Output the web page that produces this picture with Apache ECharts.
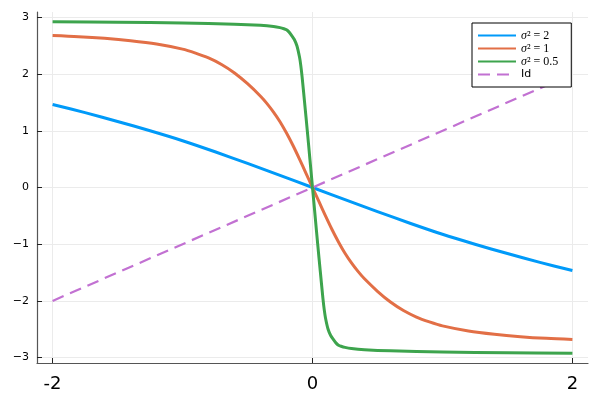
<!DOCTYPE html>
<html>
<head>
<meta charset="utf-8">
<script src="https://cdn.jsdelivr.net/npm/echarts@6/dist/echarts.min.js"></script>
<style>html,body{margin:0;padding:0;background:#fff}#c{width:600px;height:400px}</style>
</head>
<body>
<div id="c"></div>
<script>
// ---- data ----
const seriesNames = ['σ² = 2', 'σ² = 1', 'σ² = 0.5', 'Id'];

const xBlue = [-2, -1.75, -1.5, -1.25, -1, -0.75, -0.5, -0.25, 0, 0.25, 0.5, 0.75, 1, 1.25, 1.5, 1.75, 2];
const yBlue = [1.465, 1.32, 1.165, 1.0, 0.825, 0.63, 0.425, 0.215, 0, -0.215, -0.425, -0.63, -0.825, -1.0, -1.165, -1.32, -1.465];

const xOrange = [-2, -1.8, -1.6, -1.4, -1.2, -1, -0.9, -0.8, -0.7, -0.6, -0.5, -0.4, -0.35, -0.3, -0.25, -0.2, -0.15, -0.1, -0.05,
                 0, 0.05, 0.1, 0.15, 0.2, 0.25, 0.3, 0.35, 0.4, 0.5, 0.6, 0.7, 0.8, 0.9, 1, 1.2, 1.4, 1.6, 1.8, 2];
const yOrange = [2.68, 2.66, 2.63, 2.588, 2.53, 2.44, 2.37, 2.285, 2.17, 2.02, 1.83, 1.61, 1.48, 1.33, 1.16, 0.96, 0.74, 0.5, 0.25,
                 0, -0.25, -0.5, -0.74, -0.96, -1.16, -1.33, -1.48, -1.61, -1.83, -2.02, -2.17, -2.285, -2.37, -2.44, -2.53, -2.588, -2.63, -2.66, -2.68];

const xGreen = [-2, -1.5, -1, -0.6, -0.4, -0.3, -0.25, -0.22, -0.2, -0.18, -0.16, -0.14, -0.12, -0.1, -0.09, -0.08, -0.06, -0.04, -0.02,
                0, 0.02, 0.04, 0.06, 0.08, 0.09, 0.1, 0.12, 0.14, 0.16, 0.18, 0.2, 0.22, 0.25, 0.3, 0.4, 0.6, 1, 1.5, 2];
const yGreen = [2.925, 2.915, 2.9, 2.88, 2.86, 2.84, 2.82, 2.8, 2.78, 2.74, 2.68, 2.61, 2.5, 2.3, 2.15, 1.95, 1.48, 1.0, 0.5,
                0, -0.5, -1.0, -1.48, -1.95, -2.15, -2.3, -2.5, -2.61, -2.68, -2.74, -2.78, -2.8, -2.82, -2.84, -2.86, -2.88, -2.9, -2.915, -2.925];

const xId = [-2, 2];
const yId = [-2, 2];

const xTicks = [-2, 0, 2];
const yTicks = [-3, -2, -1, 0, 1, 2, 3];
const xRange = [-2.12, 2.12];
const yRange = [-3.095, 3.095];

const colors = ['#009af9', '#e26f46', '#3da44d', '#c271d2'];

function pairs(xs, ys) { return xs.map((x, i) => [x, ys[i]]); }

const chart = echarts.init(document.getElementById('c'), null, { renderer: 'canvas' });
const gridColor = '#ebebeb';
const axisColor = '#555';

const lineSeries = (name, xs, ys, color, dashed) => ({
  name: name,
  type: 'line',
  data: pairs(xs, ys),
  showSymbol: false,
  symbol: 'none',
  smooth: dashed ? false : 0.3,
  lineStyle: { color: color, width: dashed ? 2.2 : 3, type: dashed ? [12, 7] : 'solid', join: 'round', cap: 'butt' },
  itemStyle: { color: color },
  animation: false,
  z: 2
});

chart.setOption({
  animation: false,
  backgroundColor: '#fff',
  grid: { left: 37, right: 12, top: 12, bottom: 37, containLabel: false },
  xAxis: {
    type: 'value', min: xRange[0], max: xRange[1],
    axisLine: { show: true, onZero: false, lineStyle: { color: axisColor, width: 1.2 } },
    axisTick: { show: true, inside: true, length: 5, customValues: xTicks, lineStyle: { color: '#222' } },
    axisLabel: {
      customValues: xTicks, fontSize: 18, color: '#000', fontFamily: 'DejaVu Sans', margin: 12,
      formatter: v => (v < 0 ? '-' + Math.abs(v) : String(v))
    },
    splitLine: { show: true, lineStyle: { color: gridColor, width: 1 } }
  },
  yAxis: {
    type: 'value', min: yRange[0], max: yRange[1],
    axisLine: { show: true, onZero: false, lineStyle: { color: axisColor, width: 1.2 } },
    axisTick: { show: true, inside: true, length: 5, customValues: yTicks, lineStyle: { color: '#222' } },
    axisLabel: {
      customValues: yTicks, fontSize: 11, color: '#000', fontFamily: 'DejaVu Sans', margin: 8,
      formatter: v => (v < 0 ? '\u2212' + Math.abs(v) : String(v))
    },
    splitLine: { show: true, lineStyle: { color: gridColor, width: 1 } }
  },
  legend: {
    orient: 'vertical',
    left: 472, top: 23,
    padding: [6, 13, 6, 5],
    itemWidth: 38, itemHeight: 8, itemGap: 0,
    borderColor: '#000', borderWidth: 1, backgroundColor: '#fff',
    itemStyle: { opacity: 0, borderWidth: 0 },
    data: seriesNames,
    formatter: function (name) {
      if (name === 'Id') return '{s|Id}';
      return '{i|σ}{n|' + name.slice(1) + '}';
    },
    textStyle: {
      lineHeight: 13,
      rich: {
        i: { fontFamily: 'Liberation Serif', fontStyle: 'italic', fontSize: 12, color: '#000', lineHeight: 13 },
        n: { fontFamily: 'Liberation Serif', fontSize: 12, color: '#000', lineHeight: 13 },
        s: { fontFamily: 'DejaVu Sans', fontSize: 11, color: '#000', lineHeight: 13 }
      }
    }
  },
  series: [
    lineSeries(seriesNames[0], xBlue, yBlue, colors[0], false),
    lineSeries(seriesNames[1], xOrange, yOrange, colors[1], false),
    lineSeries(seriesNames[2], xGreen, yGreen, colors[2], false),
    lineSeries(seriesNames[3], xId, yId, colors[3], true)
  ]
});
</script>
</body>
</html>
